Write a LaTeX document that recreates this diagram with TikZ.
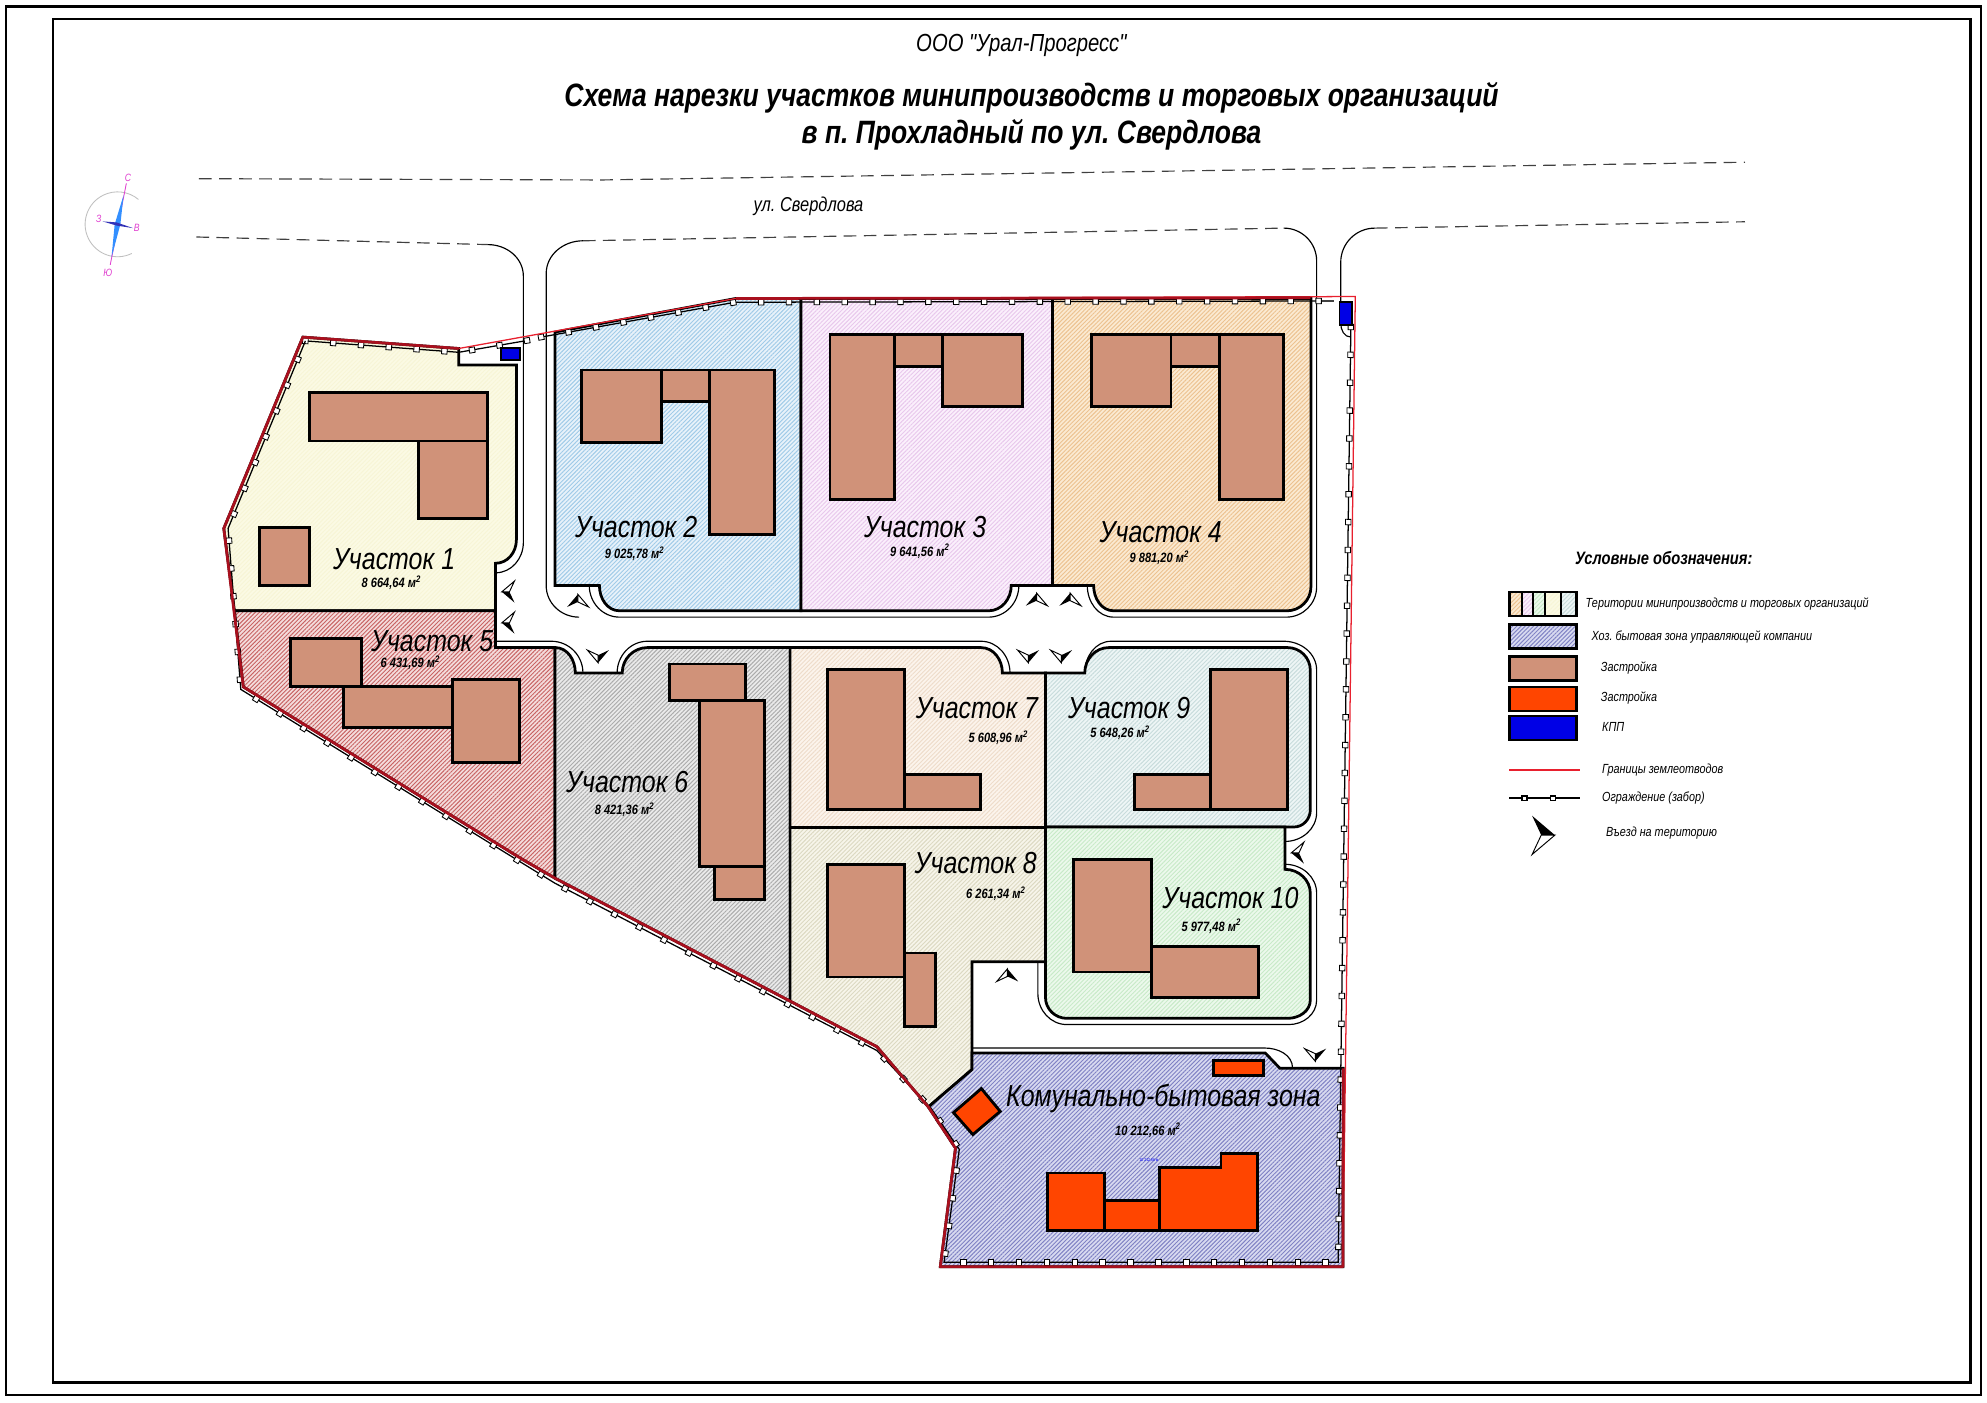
\documentclass[tikz,border=0pt]{standalone}
\usepackage{fontspec}
\setmainfont{Liberation Sans}[FakeStretch=0.82,Ligatures=TeXOff]
\frenchspacing
\usetikzlibrary{patterns.meta,decorations.markings}

\definecolor{brick}{HTML}{D09279}
\definecolor{redbuild}{HTML}{FF4500}
\definecolor{kppblue}{HTML}{0000E6}
\definecolor{darkred}{HTML}{A8101E}
\definecolor{granred}{HTML}{E8202E}
\definecolor{pink}{HTML}{E040D0}
\definecolor{fillA}{HTML}{FBFAE4}
\definecolor{lineA}{HTML}{F7F5D6}
\definecolor{fillB}{HTML}{E8F2FA}
\definecolor{lineB}{HTML}{A0CBE8}
\definecolor{fillC}{HTML}{FBF0FC}
\definecolor{lineC}{HTML}{E8C8EC}
\definecolor{fillD}{HTML}{FBEAD2}
\definecolor{lineD}{HTML}{ECC290}
\definecolor{fillE}{HTML}{F4DCDC}
\definecolor{lineE}{HTML}{C86464}
\definecolor{fillF}{HTML}{EAEAEA}
\definecolor{lineF}{HTML}{ABABAB}
\definecolor{fillG}{HTML}{FCF4EC}
\definecolor{lineG}{HTML}{EEDCCA}
\definecolor{fillH}{HTML}{F7F5EA}
\definecolor{lineH}{HTML}{DCD9C2}
\definecolor{fillI}{HTML}{EEF6F6}
\definecolor{lineI}{HTML}{C8DCDC}
\definecolor{fillJ}{HTML}{ECF9EC}
\definecolor{lineJ}{HTML}{C8EAC8}
\definecolor{fillZ}{HTML}{D8DAF0}
\definecolor{lineZ}{HTML}{8082C4}

\tikzset{
        hatch/.style={preaction={fill=fill#1}, pattern={Lines[angle=45, distance=1.4pt, line width=.45pt]}, pattern color=line#1, draw=black, line width=1.3pt},
        zastroyka/.style={fill=brick, draw=black, line width=1.35pt, line join=miter},
        zonebuild/.style={fill=redbuild, draw=black, line width=1.35pt},
        kpp/.style={fill=kppblue, draw=black, line width=.9pt},
        road/.style={draw=black, line width=.55pt},
        dashroad/.style={draw=black!75, line width=.55pt, dash pattern=on 6pt off 3.5pt},
        granica/.style={draw=granred, line width=.6pt},
        granthick/.style={draw=darkred, line width=1.3pt, line join=round},
        zabor/.style={draw=black, line width=.6pt, postaction={decorate}, decoration={markings, mark=between positions 0 and 1 step 13.2pt with {\draw[fill=white, line width=.4pt] (-1.3pt, -1.3pt) rectangle (1.3pt, 1.3pt);}}},
        plotname/.style={font=\fontsize{14.4}{14.4}\selectfont\itshape, inner sep=0pt},
        plotarea/.style={font=\fontsize{6.4}{6.4}\selectfont\bfseries\itshape, inner sep=0pt},
        legtext/.style={font=\fontsize{6.25}{6.25}\selectfont\itshape, anchor=west, inner sep=0pt},
        compasstext/.style={font=\fontsize{5}{5}\selectfont\itshape, text=pink, inner sep=0pt},
        vezd/.pic={
                \fill[black] (5, 0) -- (-5, -8.5) -- (-1, 0) -- cycle;
                \draw[fill=white, line width=.45pt, line join=miter] (5, 0) -- (-1, 0) -- (-5, 8.5) -- cycle;
        }
}

\begin{document}
\begin{tikzpicture}[x=0.6pt, y=-0.6pt]
        \useasboundingbox (0, 0) rectangle (1568, 1107);
        \fill[white] (0, 0) rectangle (1568, 1107);
        \draw[line width=1.1pt] (5, 5) rectangle (1563, 1101);
        \draw[line width=1.1pt] (42, 15) rectangle (1555, 1091);

        \node[inner sep=0pt, font=\fontsize{11.7}{11.7}\selectfont\itshape] (firma) at (806, 36) {ООО "Урал-Прогресс"};
        \node[inner sep=0pt, align=center, font=\fontsize{15.3}{17.5}\selectfont\bfseries\itshape] (title) at (814, 91.5) {Схема нарезки участков минипроизводств и торговых организаций\\в п. Прохладный по ул. Свердлова};

        % compass
        \draw[black!25, line width=.4pt] (104, 200) arc[start angle=64, end angle=310, radius=25.6];
        \draw[pink, line width=.4pt] (99.7, 144.7) -- (87, 209);
        \fill[blue!55!cyan!80] (97.5, 154) -- (95, 177) -- (88, 203) -- (90.5, 177) -- cycle;
        \fill[blue!65!black!80] (81, 174.7) -- (92, 175.5) -- (105, 180) -- (92, 178) -- cycle;
        \node[compasstext] (north) at (101, 140) {С};
        \node[compasstext] (west) at (78, 173) {З};
        \node[compasstext] (east) at (108, 180) {В};
        \node[compasstext] (south) at (85, 215) {Ю};

        % roads
        \draw[dashroad] (157, 141) -- (475, 142) -- (1377, 128);
        \draw[dashroad] (155, 187) -- (385, 193);
        \draw[dashroad] (460, 190) -- (1013, 180);
        \draw[dashroad] (1085, 180) -- (1377, 175);
        \node[inner sep=0pt, font=\fontsize{9.5}{9.5}\selectfont\itshape] (street) at (638, 163) {ул. Свердлова};
        \draw[road] (385, 193) to[out=0, in=90] (413, 218) -- (413, 428) to[out=270, in=0] (391, 452);
        \draw[road] (460, 190) to[out=180, in=90] (431, 216) -- (431, 462) to[out=270, in=180] (457, 487);
        \draw[road] (465, 462) to[out=270, in=180] (489, 487) -- (780, 487) to[out=0, in=270] (804, 462);
        \draw[road] (858, 462) to[out=270, in=180] (879, 487) -- (1015, 487) to[out=0, in=270] (1039, 463) -- (1039, 206) to[out=90, in=0] (1013, 180);
        \draw[road] (1085, 180) to[out=180, in=90] (1058, 207) -- (1058, 255) to[out=270, in=180] (1066, 266);
        \draw[road] (391, 506) -- (435, 506) to[out=0, in=90] (460, 531);
        \draw[road] (487, 531) to[out=90, in=180] (511, 506) -- (774, 506) to[out=0, in=90] (797, 531);
        \draw[road] (856, 531) to[out=90, in=180] (877, 506) -- (1013, 506) to[out=0, in=90] (1039, 529) -- (1039, 641) to[out=270, in=0] (1014, 664);
        \draw[road] (1014, 682) to[out=0, in=90] (1039, 705) -- (1039, 789) to[out=270, in=0] (1017, 808.5) -- (842, 808.5) to[out=180, in=270] (819, 784) -- (819, 759);
        \draw[road] (767, 827) -- (998, 827) to[out=0, in=90] (1020, 843);

        % plots
        \path[hatch=A] (239, 266) -- (362, 275) -- (362, 288) -- (407.5, 288) -- (407.5, 426) to[out=270, in=0] (391, 444.5) -- (391, 482) -- (185, 482) -- (176.6, 417) -- cycle;
        \path[hatch=B] (438, 262) -- (580.7, 235.5) -- (632, 235.5) -- (632, 482) -- (489, 482) to[out=180, in=270] (473, 462) -- (438, 462) -- cycle;
        \path[hatch=C] (632, 235.5) -- (830.5, 235.5) -- (830.5, 462) -- (798, 462) to[out=270, in=0] (780, 482) -- (632, 482) -- cycle;
        \path[hatch=D] (830.5, 235.5) -- (1034.5, 235.5) -- (1034.5, 463) to[out=270, in=0] (1015.5, 482) -- (879, 482) to[out=180, in=270] (863, 462) -- (830.5, 462) -- cycle;
        \path[hatch=E] (185, 482) -- (391, 482) -- (391, 511) -- (438, 511) -- (438, 693) -- (412, 678) -- (192, 542) -- cycle;
        \path[hatch=F] (438, 511) to[out=0, in=90] (454, 531) -- (491, 531) to[out=90, in=180] (511, 511) -- (623.5, 511) -- (623.5, 790) -- (438, 693) -- cycle;
        \path[hatch=G] (623.5, 511) -- (774, 511) to[out=0, in=90] (791, 531) -- (825, 531) -- (825, 653) -- (623.5, 653) -- cycle;
        \path[hatch=H] (623.5, 653) -- (825, 653) -- (825, 759) -- (767, 759) -- (767, 844) -- (732.6, 873.5) -- (692, 826) -- (623.5, 790) -- cycle;
        \path[hatch=I] (825, 531) -- (856, 531) to[out=90, in=180] (875, 511) -- (1016, 511) to[out=0, in=90] (1034, 529) -- (1034, 639) to[out=270, in=0] (1021, 652.6) -- (825, 652.6) -- cycle;
        \path[hatch=J] (825, 652.6) -- (1014, 652.6) -- (1014, 686) to[out=0, in=90] (1034, 705) -- (1034, 789) to[out=270, in=0] (1016, 803.6) -- (842, 803.6) to[out=180, in=270] (825, 787) -- cycle;
        \path[hatch=Z] (767, 831) -- (998.5, 831) -- (1010, 843) -- (1060, 843) -- (1059.7, 999.6) -- (742, 999.6) -- (754, 906) -- (732.6, 873.5) -- (767, 844) -- cycle;

        % boundary and fence
        \draw[zabor] (241, 269) -- (362, 278) -- (417, 268.5);
        \draw[zabor] (427, 266) -- (580, 238.5) -- (1043, 237.5);
        \draw[dashroad] (1043, 237.5) -- (1056, 237.5);
        \draw[zabor] (1066, 258) -- (1056, 996) -- (745, 996) -- (757, 907) -- (735, 875) -- (692, 829) -- (438, 697) -- (412, 681) -- (190, 544) -- (180, 417) -- (241, 269);
        \draw[granica] (362, 275) -- (580.7, 235.5) -- (1069.5, 234) -- (1059.7, 999.6);
        \draw[granthick] (580.7, 235.5) -- (1034, 235);
        \draw[granthick] (362, 275) -- (239, 266) -- (176.6, 417) -- (192, 542) -- (412, 678) -- (438, 693) -- (623.5, 790) -- (692, 826) -- (732.6, 873.5) -- (754, 906) -- (742, 999.6) -- (1059.7, 999.6) -- (1060, 843);

        % buildings
        \foreach \xa/\ya/\xb/\yb in {244/310/385/348, 330/348/385/409, 205/416/244/462,
                459/292/522/349, 522/292/560/317, 560/292/611/422,
                655/264/706/394, 706/264/744/289, 744/264/807/321,
                861/264/924/321, 924/264/962/289, 962/264/1013/394,
                229/504/285/542, 271/542/357/574, 357/536/410/602,
                528/524/588/553, 552/553/603/684, 564/684/603/710,
                653/528/714/639, 714/611/774/639,
                653/682/714/771, 714/752/738/810,
                955/528/1016/639, 895/611/955/639,
                847/678/909/767, 909/747/993/787}
                \draw[zastroyka] (\xa, \ya) rectangle (\xb, \yb);
        \draw[zonebuild] (957.6, 836.6) rectangle (997, 849);
        \draw[zonebuild] (774.4, 859) -- (789.3, 877) -- (767.7, 895.3) -- (752.4, 878) -- cycle;
        \draw[zonebuild] (826.4, 925.6) rectangle (871.3, 971.3);
        \draw[zonebuild] (871.3, 947) rectangle (915, 971.3);
        \draw[zonebuild] (915, 921) -- (963.5, 921) -- (963.5, 910) -- (992, 910) -- (992, 971.3) -- (915, 971.3) -- cycle;

        \draw[kpp] (395, 274.6) rectangle (410, 284);
        \draw[kpp] (1057, 238) rectangle (1067, 256.5);

        % entries
        \foreach \px/\py/\ang in {401/467/180, 401/491.5/180, 456/474/90, 818/473/90, 844.5/473/90,
                472/518/270, 811.5/518/270, 837.5/518/270, 1024/673/180, 1038/832.5/270}
                \pic[rotate=\ang] at (\px, \py) {vezd};
        \pic[rotate=90, yscale=-1] at (795, 769.5) {vezd};

        % labels
        \foreach \id/\nx/\ny/\ax/\ay/\ar in {1/311/441/309/460/8 664{,}64,
                2/502/416/501/437/9 025{,}78, 3/730/416/726/435/9 641{,}56,
                4/916/420/915/440/9 881{,}20, 5/341/506/324/523/6 431{,}69,
                6/495/617/493/639/8 421{,}36, 7/771/559/788/582/5 608{,}96,
                8/770/681/786/705/6 261{,}34, 9/891/559/884/578/5 648{,}26,
                10/971/709/956/731/5 977{,}48}{
                \node[plotname] (uch\id) at (\nx, \ny) {Участок \id};
                \node[plotarea] (pl\id) at (\ax, \ay) {\ar\ м\textsuperscript{2}};
        }
        \node[plotname] (zona) at (918, 867) {Комунально-бытовая зона};
        \node[plotarea] (plzona) at (906, 892) {10 212,66 м\textsuperscript{2}};
        \node[inner sep=0pt, text=blue, font=\fontsize{2}{2}\selectfont] (plsmall) at (907.6, 914) {10 212,66 м\textsuperscript{2}};

        % legend
        \node[inner sep=0pt, font=\fontsize{8.5}{8.5}\selectfont\bfseries\itshape] (legtitle) at (1313, 440) {Условные обозначения:};
        \path[hatch=D, draw=none] (1191, 467) rectangle (1200.7, 486);
        \path[hatch=C, draw=none] (1200.7, 467) rectangle (1209.4, 486);
        \path[hatch=J, draw=none] (1209.4, 467) rectangle (1219.4, 486);
        \path[hatch=A, draw=none] (1219.4, 467) rectangle (1232, 486);
        \path[hatch=I, draw=none] (1232, 467) rectangle (1244, 486);
        \draw[line width=1.2pt] (1191, 467) rectangle (1244, 486);
        \foreach \xd in {1200.7, 1209.4, 1219.4, 1232}
                \draw[line width=.9pt] (\xd, 467) -- (\xd, 486);
        \path[hatch=Z, line width=1.2pt] (1191, 493) rectangle (1244, 511.7);
        \draw[fill=brick, line width=1.2pt] (1191, 518) rectangle (1244, 537);
        \draw[fill=redbuild, line width=1.2pt] (1191, 542) rectangle (1244, 561);
        \draw[fill=kppblue, line width=1.2pt] (1191, 565) rectangle (1244, 584);
        \draw[granica] (1191, 607.7) -- (1247, 607.7);
        \draw[line width=.9pt] (1191, 630) -- (1247, 630);
        \foreach \xd in {1203, 1225.5}
                \draw[fill=white, line width=.7pt] (\xd-1.8, 628.2) rectangle (\xd+1.8, 631.8);
        \pic[scale=1.8] at (1218, 659) {vezd};
        \node[legtext] (leg1) at (1251, 477) {Територии минипроизводств и торговых организаций};
        \node[legtext] (leg2) at (1255.7, 502.5) {Хоз. бытовая зона управляющей компании};
        \node[legtext] (leg3) at (1263, 527) {Застройка};
        \node[legtext] (leg4) at (1263, 551) {Застройка};
        \node[legtext] (leg5) at (1264, 574) {КПП};
        \node[legtext] (leg6) at (1264, 607.7) {Границы землеотводов};
        \node[legtext] (leg7) at (1264, 630) {Ограждение (забор)};
        \node[legtext] (leg8) at (1267, 657) {Въезд на територию};
\end{tikzpicture}
\end{document}
